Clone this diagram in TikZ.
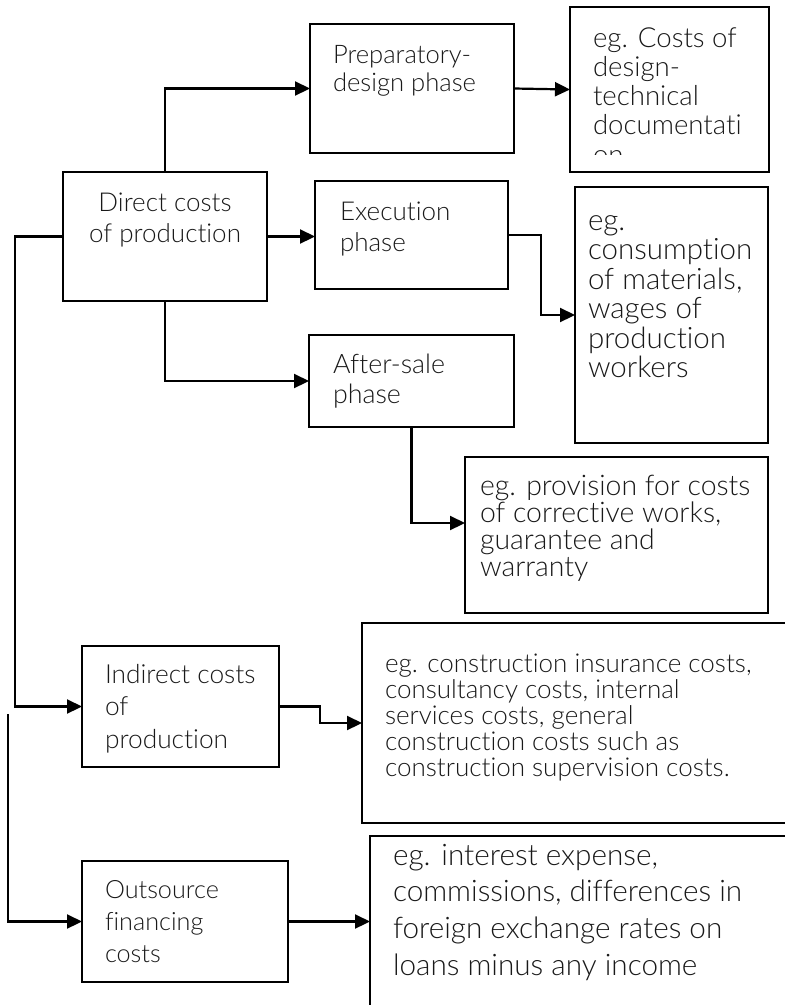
\documentclass[tikz,border=0pt]{standalone}
\usepackage{fontspec}
\IfFontExistsTF{Lato Light}{\setmainfont{Lato Light}[Ligatures=NoCommon]}{\setmainfont{Lato}[Ligatures=NoCommon]}
\usetikzlibrary{arrows.meta}
\begin{document}
\begin{tikzpicture}[x=1pt,y=-1pt,
  box/.style={draw=black, line width=1.8pt, inner sep=0pt, outer sep=0pt, anchor=north west},
  arr/.style={line width=2.2pt, -{Triangle[length=15pt,width=14pt]}},
  lbl/.style={anchor=base west, inner sep=0pt, outer sep=0pt, text=black!90},
]
\useasboundingbox (0,0) rectangle (785,1005);
\clip (0,0) rectangle (785,1005);
% boxes
\node[box, minimum width=204pt, minimum height=129pt] (A) at (310,24) {};
\node[box, minimum width=199pt, minimum height=165pt] (B) at (570,7) {};
\node[box, minimum width=204pt, minimum height=129pt] (C) at (63,172) {};
\node[box, minimum width=193pt, minimum height=108pt] (D) at (315,181) {};
\node[box, minimum width=193pt, minimum height=256pt] (E) at (575,187) {};
\node[box, minimum width=205pt, minimum height=92pt] (F) at (309,335) {};
\node[box, minimum width=303pt, minimum height=156pt] (G) at (465,457) {};
\node[box, minimum width=197pt, minimum height=121pt] (H) at (82,646) {};
\node[box, minimum width=440pt, minimum height=200pt] (I) at (362,623) {};
\node[box, minimum width=206pt, minimum height=121pt] (J) at (82,861) {};
\node[box, minimum width=440pt, minimum height=172pt] (K) at (370,836) {};
% texts
\node[lbl, font=\fontsize{25.6}{28}\selectfont] (At) at (333,63) {\parbox[t]{180pt}{\raggedright Preparatory-\\design phase}};
\begin{scope}
\clip (570,7) rectangle (769,154);
\node[lbl, font=\fontsize{27.6}{29.3}\selectfont] (Bt) at (593,47) {\parbox[t]{180pt}{\raggedright eg. Costs of\\design-\\technical\\documentati\\on}};
\end{scope}
\node[lbl, font=\fontsize{26}{31}\selectfont] (Ct) at (63,211) {\parbox[t]{204pt}{\centering Direct costs\\of production}};
\node[lbl, font=\fontsize{26}{31}\selectfont] (Dt) at (340,220) {\parbox[t]{160pt}{\raggedright Execution\\phase}};
\node[lbl, font=\fontsize{29.5}{29.5}\selectfont] (Et) at (588,230) {\parbox[t]{180pt}{\raggedright eg.\\consumption\\of materials,\\wages of\\production\\workers}};
\node[lbl, font=\fontsize{26.8}{30}\selectfont] (Ft) at (333,373) {\parbox[t]{180pt}{\raggedright After-sale\\phase}};
\node[lbl, font=\fontsize{28.4}{27}\selectfont] (Gt) at (480,495) {\parbox[t]{290pt}{\raggedright eg. provision for costs\\of corrective works,\\guarantee and\\warranty}};
\node[lbl, font=\fontsize{26.3}{32.5}\selectfont] (Ht) at (105,683) {\parbox[t]{180pt}{\raggedright Indirect costs\\of\\production}};
\node[lbl, font=\fontsize{26}{26}\selectfont] (It) at (385,672) {\parbox[t]{400pt}{\raggedright eg. construction insurance costs,\\consultancy costs, internal\\services costs, general\\construction costs such as\\construction supervision costs.}};
\node[lbl, font=\fontsize{25.2}{32}\selectfont] (Jt) at (105,898) {\parbox[t]{180pt}{\raggedright Outsource\\financing\\costs}};
\node[lbl, font=\fontsize{29.7}{36.7}\selectfont] (Kt) at (393,865) {\parbox[t]{400pt}{\raggedright eg. interest expense,\\commissions, differences in\\foreign exchange rates on\\loans minus any income}};
% connectors
\coordinate (s) at (8,714);
\draw[arr] (C.north) |- (A.west);
\draw[arr] (A.east) -- (B.west);
\draw[arr] (C.east) -- (C.east -| D.west);
\draw[arr] (D.east) -- ++(33,0) |- (E.west);
\draw[arr] (C.south) |- (F.west);
\draw[arr] (F.south) |- ([yshift=12pt]G.west);
\draw[arr] (C.west) -- ++(-48,0) |- (H.west);
\draw[arr] (H.east) -- ++(41,0) |- (I.west);
\draw[arr] (s) |- (J.west);
\draw[arr] (J.east) -- (J.east -| K.west);
\end{tikzpicture}
\end{document}
